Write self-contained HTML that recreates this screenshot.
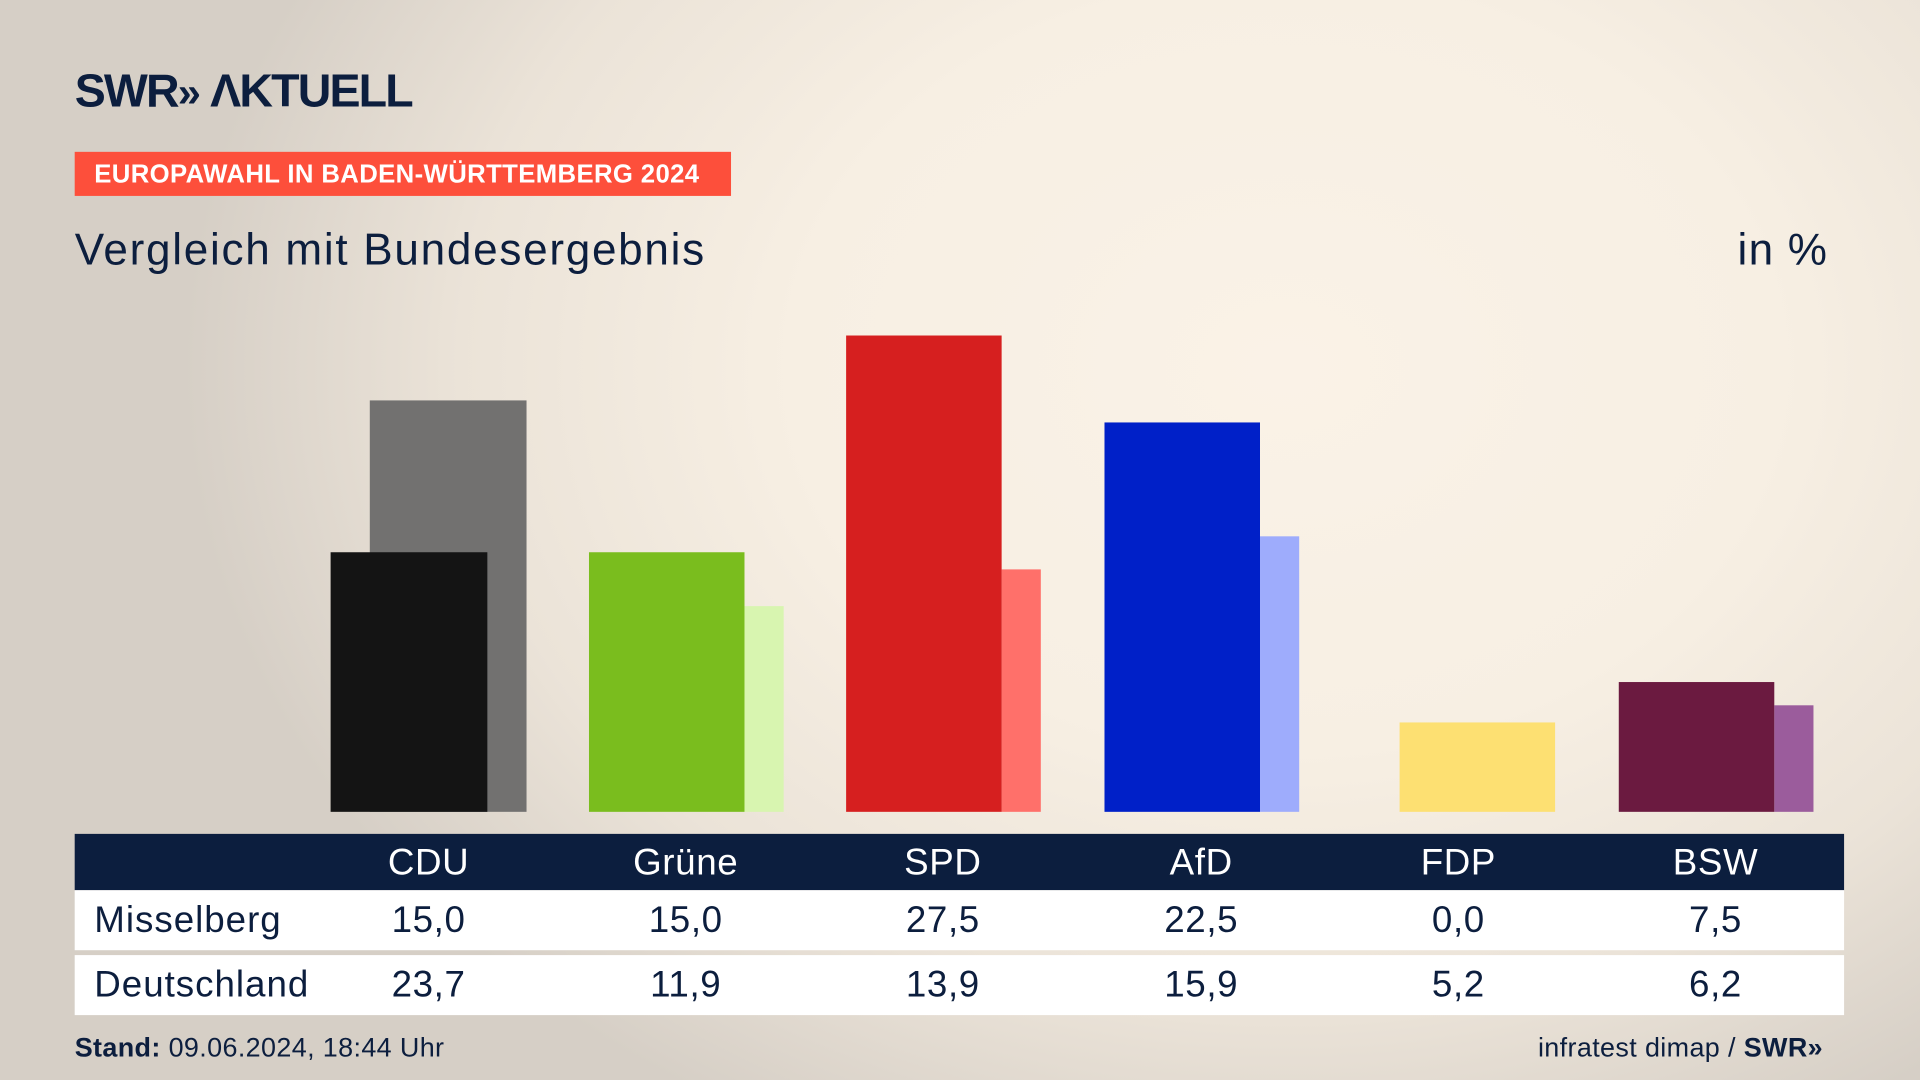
<!DOCTYPE html>
<html><head><meta charset="utf-8"><style>
html,body{margin:0;padding:0;width:1920px;height:1080px;overflow:hidden}
#wrap{position:absolute;left:0;top:0;width:1568px;height:882px;transform:scale(1.22449);transform-origin:0 0;
background:radial-gradient(ellipse 900px 700px at 1050px 300px,#faf2e7 0%,#f7efe3 45%,#ebe3d8 75%,#d6cfc6 100%);
font-family:"Liberation Sans",sans-serif;color:#0c1e3e}
.a{position:absolute}
.bar{position:absolute}
.hd{position:absolute;top:681px;left:61px;width:1445px;height:46px;background:#0c1e3e}
.row{position:absolute;left:61px;width:1445px;height:49px;background:#fff}
.c{position:absolute;width:160px;text-align:center;font-size:30px;letter-spacing:0.5px}
.lab{position:absolute;left:16px;font-size:30px;letter-spacing:0.8px}
</style></head><body><div id="wrap">
<div class="a" style="left:61px;top:54px;font-size:38px;font-weight:bold;letter-spacing:-1.5px">SWR<span style="font-size:34px">»</span> ΛKTUELL</div>
<div class="a" style="left:61px;top:124px;width:536px;height:36px;background:#fd4f3b;color:#fff;font-weight:bold;font-size:21px;line-height:37px;text-indent:16px;white-space:nowrap;letter-spacing:0.3px">EUROPAWAHL IN BADEN-WÜRTTEMBERG 2024</div>
<div class="a" style="left:61px;top:183px;font-size:36px;letter-spacing:1.4px">Vergleich mit Bundesergebnis</div>
<div class="a" style="left:1419px;top:183px;font-size:36px;letter-spacing:1px">in %</div>

<div class="bar" style="left:302px;top:327px;width:128px;height:336px;background:#727170"></div>
<div class="bar" style="left:270px;top:451px;width:128px;height:212px;background:#141414"></div>
<div class="bar" style="left:608px;top:495px;width:32px;height:168px;background:#d8f5b0"></div>
<div class="bar" style="left:481px;top:451px;width:127px;height:212px;background:#7abd1e"></div>
<div class="bar" style="left:818px;top:465px;width:32px;height:198px;background:#ff706a"></div>
<div class="bar" style="left:691px;top:274px;width:127px;height:389px;background:#d61f1f"></div>
<div class="bar" style="left:1029px;top:438px;width:32px;height:225px;background:#9eacfc"></div>
<div class="bar" style="left:902px;top:345px;width:127px;height:318px;background:#0020c8"></div>
<div class="bar" style="left:1143px;top:590px;width:127px;height:73px;background:#fde072"></div>
<div class="bar" style="left:1449px;top:576px;width:32px;height:87px;background:#9b5c9c"></div>
<div class="bar" style="left:1322px;top:557px;width:127px;height:106px;background:#6b1a40"></div>

<div class="hd">
<div class="c" style="left:209px;top:7px;color:#fff">CDU</div>
<div class="c" style="left:419px;top:7px;color:#fff">Grüne</div>
<div class="c" style="left:629px;top:7px;color:#fff">SPD</div>
<div class="c" style="left:840px;top:7px;color:#fff">AfD</div>
<div class="c" style="left:1050px;top:7px;color:#fff">FDP</div>
<div class="c" style="left:1260px;top:7px;color:#fff">BSW</div>
</div>
<div class="row" style="top:727px">
<div class="lab" style="top:8px">Misselberg</div>
<div class="c" style="left:209px;top:8px">15,0</div>
<div class="c" style="left:419px;top:8px">15,0</div>
<div class="c" style="left:629px;top:8px">27,5</div>
<div class="c" style="left:840px;top:8px">22,5</div>
<div class="c" style="left:1050px;top:8px">0,0</div>
<div class="c" style="left:1260px;top:8px">7,5</div>
</div>
<div class="row" style="top:780px">
<div class="lab" style="top:8px">Deutschland</div>
<div class="c" style="left:209px;top:8px">23,7</div>
<div class="c" style="left:419px;top:8px">11,9</div>
<div class="c" style="left:629px;top:8px">13,9</div>
<div class="c" style="left:840px;top:8px">15,9</div>
<div class="c" style="left:1050px;top:8px">5,2</div>
<div class="c" style="left:1260px;top:8px">6,2</div>
</div>
<div class="a" style="left:61px;top:843px;font-size:22px;letter-spacing:0.3px"><b>Stand:</b> 09.06.2024, 18:44 Uhr</div>
<div class="a" style="left:1256px;top:843px;font-size:22px;letter-spacing:0.3px">infratest dimap / <b>SWR»</b></div>
</div></body></html>
